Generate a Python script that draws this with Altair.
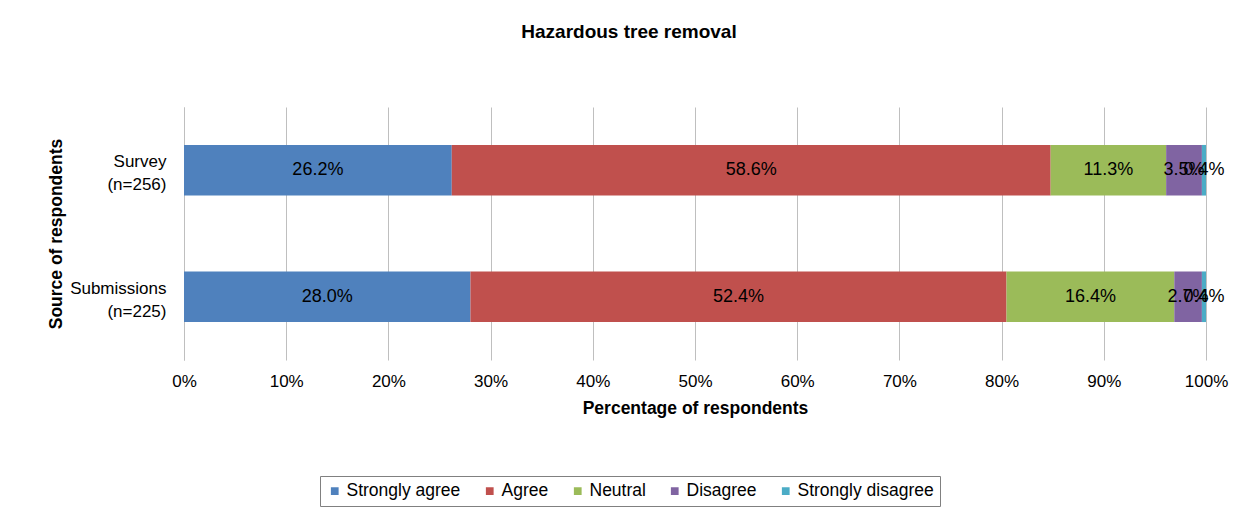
import altair as alt
import pandas as pd

sources = ["Survey|(n=256)", "Submissions|(n=225)"]
categories = ["Strongly agree", "Agree", "Neutral", "Disagree", "Strongly disagree"]
colors = ["#4F81BD", "#C0504D", "#9BBB59", "#8064A2", "#4BACC6"]
survey_vals = [26.2, 58.6, 11.3, 3.5, 0.4]
submission_vals = [28.0, 52.4, 16.4, 2.7, 0.4]

rows = []
for src, vals in zip(sources, [survey_vals, submission_vals]):
    for i, (c, v) in enumerate(zip(categories, vals)):
        rows.append({"source": src, "category": c, "value": v, "order": i})
df = pd.DataFrame(rows)

FONT = "Liberation Sans"

base = alt.Chart(df).transform_joinaggregate(
    total="sum(value)", groupby=["source"]
).transform_window(
    cum="sum(value)", groupby=["source"], sort=[alt.SortField("order", order="ascending")],
    frame=[None, 0]
).transform_calculate(
    start="(datum.cum - datum.value) / datum.total",
    end="datum.cum / datum.total",
    mid="(datum.cum - datum.value / 2) / datum.total",
    label="format(datum.value, '.1f') + '%'"
)

yenc = alt.Y(
    "source:N", sort=sources,
    scale=alt.Scale(paddingInner=0.6, paddingOuter=0.3),
    axis=alt.Axis(
        title="Source of respondents", labelExpr="split(datum.value, '|')",
        ticks=False, domainColor="#BFBFBF", labelFontSize=17, labelPadding=18,
        labelColor="#000000", titleFontSize=17.5, titleFontWeight="bold",
        titlePadding=4, titleColor="#000000", labelFont=FONT, titleFont=FONT,
        labelLineHeight=23, labelOffset=-8,
    ),
)

bars = base.mark_bar().encode(
    x=alt.X(
        "start:Q",
        scale=alt.Scale(domain=[0, 1], nice=False),
        axis=alt.Axis(
            format="%", values=[i / 10 for i in range(11)], title="Percentage of respondents",
            grid=True, gridColor="#BFBFBF", domain=False, ticks=False, labelFlush=False,
            labelFontSize=17, labelPadding=13, labelColor="#000000", labelFont=FONT,
            titleFont=FONT, titleFontSize=17.5, titleFontWeight="bold", titleColor="#000000",
            titlePadding=10,
        ),
    ),
    x2="end:Q",
    y=yenc,
    color=alt.Color(
        "category:N", sort=categories,
        scale=alt.Scale(domain=categories, range=colors),
        legend=alt.Legend(
            title=None, orient="none", legendX=136, legendY=369, direction="horizontal",
            symbolType="square", symbolSize=60, labelFontSize=17.5, labelFont=FONT,
            labelColor="#000000", strokeColor="#808080", padding=6, columnPadding=20,
            symbolStrokeWidth=0, labelOffset=3,
        ),
    ),
    order="order:Q",
)

text = base.mark_text(fontSize=18, font=FONT, color="#000000").encode(
    x="mid:Q",
    y=alt.Y("source:N", sort=sources),
    text="label:N",
)

chart = alt.layer(bars, text).properties(
    width=1022, height=253,
    title=alt.TitleParams(
        "Hazardous tree removal", font=FONT, fontSize=19, fontWeight="bold",
        color="#000000", anchor="middle", dx=-66, offset=65,
    ),
    autosize=alt.AutoSizeParams(type="none"),
    padding={"left": 176, "top": 99, "right": 30, "bottom": 148},
).configure_view(stroke=None)

chart.save("out.html", embed_options={"renderer": "svg", "actions": False})
